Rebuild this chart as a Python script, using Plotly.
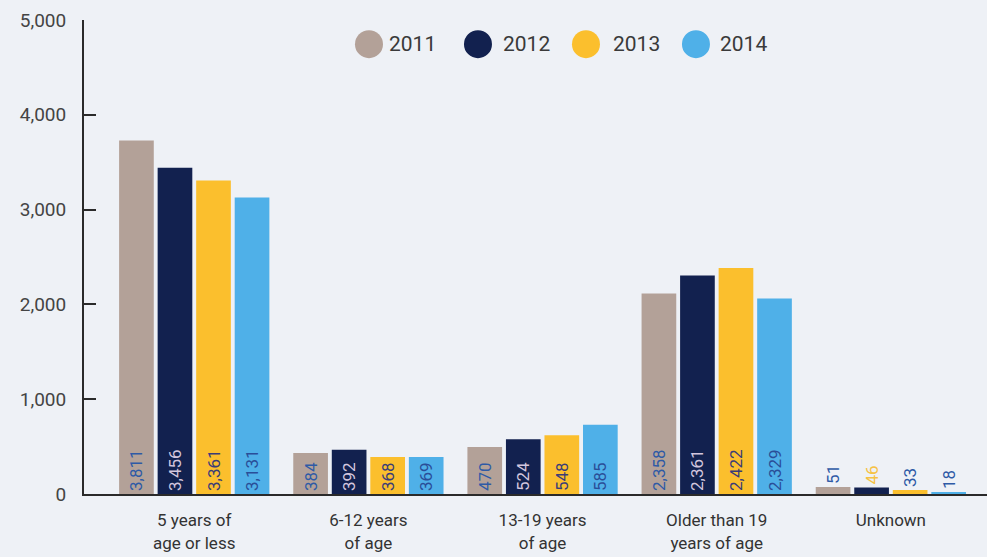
import plotly.graph_objects as go

categories = ["5 years of<br>age or less", "6-12 years<br>of age", "13-19 years<br>of age",
              "Older than 19<br>years of age", "Unknown"]
years = ["2011", "2012", "2013", "2014"]

# bar heights as drawn in the picture
values_2011 = [3728, 432, 497, 2115, 75]
values_2012 = [3442, 468, 577, 2305, 68]
values_2013 = [3306, 390, 620, 2385, 42]
values_2014 = [3128, 390, 730, 2062, 14]

# printed labels
labels_2011 = ["3,811", "384", "470", "2,358", "51"]
labels_2012 = ["3,456", "392", "524", "2,361", "46"]
labels_2013 = ["3,361", "368", "548", "2,422", "33"]
labels_2014 = ["3,131", "369", "585", "2,329", "18"]

bar_colors = ["#b3a198", "#12214f", "#fbbf2d", "#4fb0e8"]
inside_text_colors = ["#2e5aa6", "#d3c6de", "#3a3c78", "#2a4e98"]
unknown_text_colors = ["#2e5aa6", "#f6c244", "#2e5aa6", "#2e5aa6"]

series_values = [values_2011, values_2012, values_2013, values_2014]
series_labels = [labels_2011, labels_2012, labels_2013, labels_2014]

BG = "#eef1f6"
FONT = "Roboto"

fig = go.Figure()
for i, yr in enumerate(years):
    n = len(categories)
    fig.add_trace(go.Bar(
        name=yr,
        x=categories,
        y=series_values[i],
        text=series_labels[i],
        textposition=["inside"] * (n - 1) + ["outside"],
        insidetextanchor="start",
        constraintext="none",
        textangle=-90,
        textfont=dict(family=FONT, size=17,
                      color=[inside_text_colors[i]] * (n - 1) + [unknown_text_colors[i]]),
        marker=dict(color=bar_colors[i], line=dict(width=0)),
        showlegend=False,
        cliponaxis=False,
        hoverinfo="skip",
    ))

# custom legend with circles
legend_circle_x = [0.3156, 0.4363, 0.5559, 0.6777]
legend_text_x = [0.3355, 0.4618, 0.5836, 0.7021]
legend_y = 0.949
for i, yr in enumerate(years):
    fig.add_shape(type="circle", xref="paper", yref="paper",
                  xsizemode="pixel", ysizemode="pixel",
                  xanchor=legend_circle_x[i], yanchor=legend_y,
                  x0=-14, x1=14, y0=-14, y1=14,
                  fillcolor=bar_colors[i], line=dict(width=0))
    fig.add_annotation(x=legend_text_x[i], y=legend_y, xref="paper", yref="paper",
                       xanchor="left", yanchor="middle", showarrow=False,
                       text=yr, font=dict(family=FONT, size=21, color="#3a3a3a"))

fig.update_layout(
    width=987, height=557,
    margin=dict(l=84, r=0, t=20, b=63),
    paper_bgcolor=BG, plot_bgcolor=BG,
    barmode="group", bargap=0.115, bargroupgap=0.1,
    font=dict(family=FONT, color="#333333"),
)
fig.update_xaxes(
    range=[-0.633, 4.552],
    showline=True, linecolor="#2a2a2a", linewidth=2,
    ticks="", showgrid=False, zeroline=False,
    ticklabelstandoff=10,
    tickfont=dict(family=FONT, size=17, color="#333333"),
)
fig.update_yaxes(
    range=[0, 5000], tickvals=[0, 1000, 2000, 3000, 4000, 5000],
    tickformat=",d",
    showline=True, linecolor="#2a2a2a", linewidth=2,
    ticks="inside", ticklen=12, tickwidth=2, tickcolor="#2a2a2a",
    showgrid=False, zeroline=False,
    ticklabelstandoff=12,
    tickfont=dict(family=FONT, size=19, color="#444444"),
)

fig.write_html("out.html", config={"displayModeBar": False},
               post_script="document.body.style.margin='0';document.body.style.background='" + BG + "';")
